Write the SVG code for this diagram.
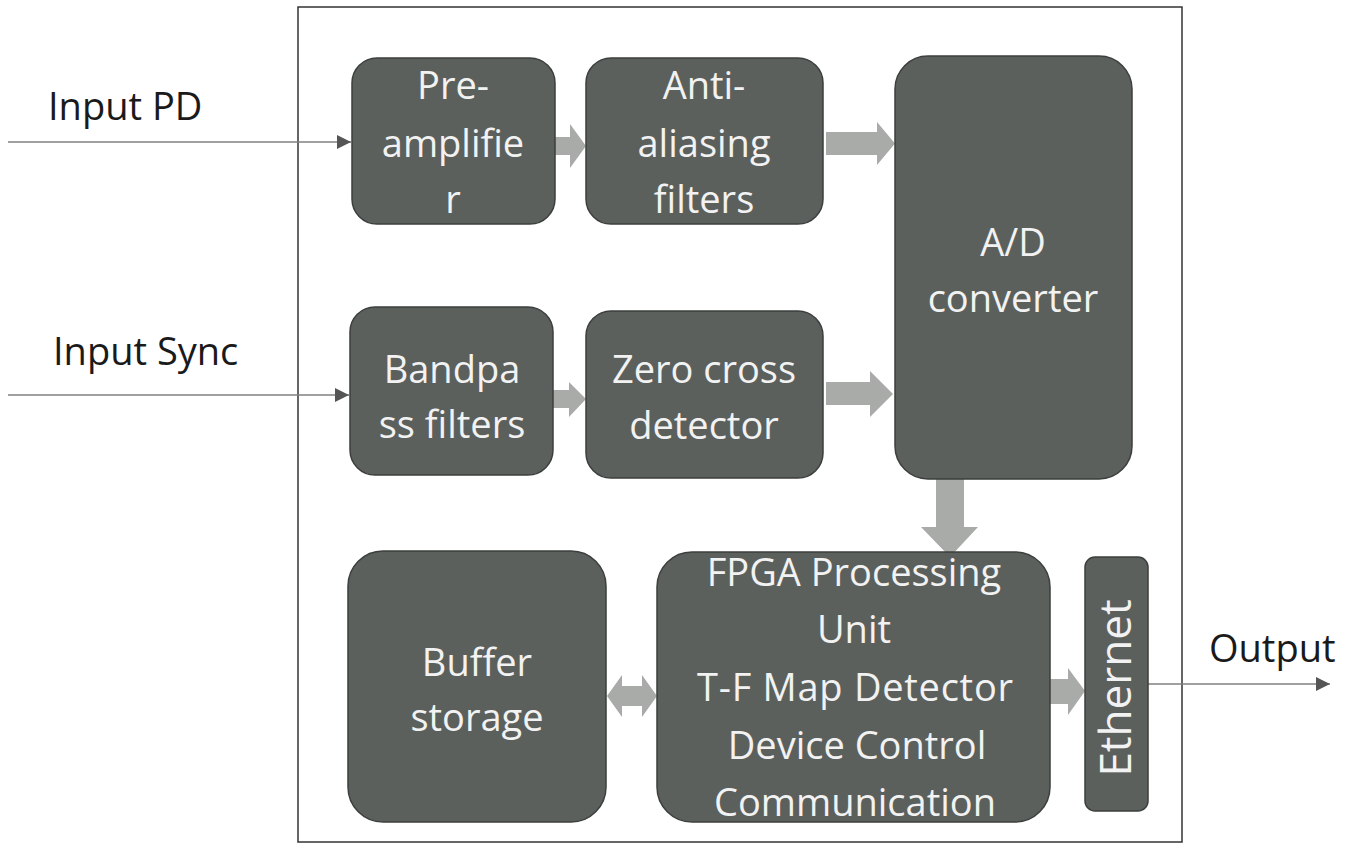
<svg xmlns="http://www.w3.org/2000/svg" width="1356" height="845" viewBox="0 0 1356 845">
<defs>
<style>
.box{fill:#5b605d;stroke:#3c3f3d;stroke-width:1.5}
.t{fill:#f2f2f2;font-family:"Open Sans","Liberation Sans",sans-serif;font-size:38px;text-anchor:middle}
.lbl{fill:#1a1a1a;font-family:"Open Sans","Liberation Sans",sans-serif;font-size:38px}
.blk{fill:#a9aba9}
.ln{stroke:#808080;stroke-width:1.5;fill:none}
</style>
<marker id="ah" viewBox="0 0 10 10" refX="10" refY="5" markerWidth="14" markerHeight="14" markerUnits="userSpaceOnUse" orient="auto">
<path d="M0,0 L10,5 L0,10 z" fill="#555"/>
</marker>
</defs>
<rect width="1356" height="845" fill="#ffffff"/>
<rect id="frame" x="298" y="7" width="884" height="835" fill="none" stroke="#333" stroke-width="1.5"/>

<g id="connectors">
<line class="ln" x1="8" y1="142" x2="351" y2="142" marker-end="url(#ah)"/>
<line class="ln" x1="8" y1="395" x2="349" y2="395" marker-end="url(#ah)"/>
<line class="ln" x1="1148" y1="684" x2="1330" y2="684" marker-end="url(#ah)"/>
<path class="blk" d="M555,137 H570 V124 L586,146 L570,168 V155 H555 Z"/>
<path class="blk" d="M826,132 H877 V122 L895,143.5 L877,165 V155 H826 Z"/>
<path class="blk" d="M553,390 H569 V382 L586,399 L569,417 V408 H553 Z"/>
<path class="blk" d="M826,382 H870 V371 L893,394 L870,417 V405 H826 Z"/>
<path class="blk" d="M936,479 V527 H921 L950,557 L978,527 H964 V479 Z"/>
<path class="blk" d="M607,696 L622,675 V686 H642 V675 L657,696 L642,717 V706 H622 V717 Z"/>
<path class="blk" d="M1050,679 H1068 V668 L1085,691 L1068,715 V704 H1050 Z"/>
</g>

<g id="preamp">
<rect class="box" x="352" y="58" width="203" height="166" rx="25"/>
<text class="t" x="453" y="99">Pre-</text>
<text class="t" x="453" y="157">amplifie</text>
<text class="t" x="453" y="213">r</text>
</g>
<g id="antialias">
<rect class="box" x="586" y="58" width="237" height="166" rx="25"/>
<text class="t" x="704" y="99">Anti-</text>
<text class="t" x="704" y="157">aliasing</text>
<text class="t" x="704" y="213">filters</text>
</g>
<g id="adc">
<rect class="box" x="895" y="56" width="237" height="423" rx="33"/>
<text class="t" x="1013" y="256">A/D</text>
<text class="t" x="1013" y="312">converter</text>
</g>
<g id="bandpass">
<rect class="box" x="350" y="307" width="203" height="168" rx="25"/>
<text class="t" x="452" y="383">Bandpa</text>
<text class="t" x="452" y="438">ss filters</text>
</g>
<g id="zerocross">
<rect class="box" x="586" y="311" width="237" height="167" rx="25"/>
<text class="t" x="704" y="383">Zero cross</text>
<text class="t" x="704" y="439">detector</text>
</g>
<g id="buffer">
<rect class="box" x="348" y="551" width="258" height="271" rx="35"/>
<text class="t" x="477" y="676">Buffer</text>
<text class="t" x="477" y="731">storage</text>
</g>
<g id="fpga">
<rect class="box" x="657" y="552" width="393" height="270" rx="35"/>
<text class="t" x="854" y="586">FPGA Processing</text>
<text class="t" x="854" y="643">Unit</text>
<text class="t" x="855" y="701" textLength="316" lengthAdjust="spacing">T-F Map Detector</text>
<text class="t" x="857" y="759">Device Control</text>
<text class="t" x="855" y="816">Communication</text>
</g>
<g id="ethernet">
<rect class="box" x="1085" y="557" width="63" height="254" rx="10"/>
<text class="t" x="0" y="0" style="font-size:44px" transform="translate(1131,688) rotate(-90)">Ethernet</text>
</g>
<g id="labels">
<text class="lbl" x="48" y="120">Input PD</text>
<text class="lbl" x="53" y="365">Input Sync</text>
<text class="lbl" x="1209" y="662">Output</text>
</g>
</svg>
